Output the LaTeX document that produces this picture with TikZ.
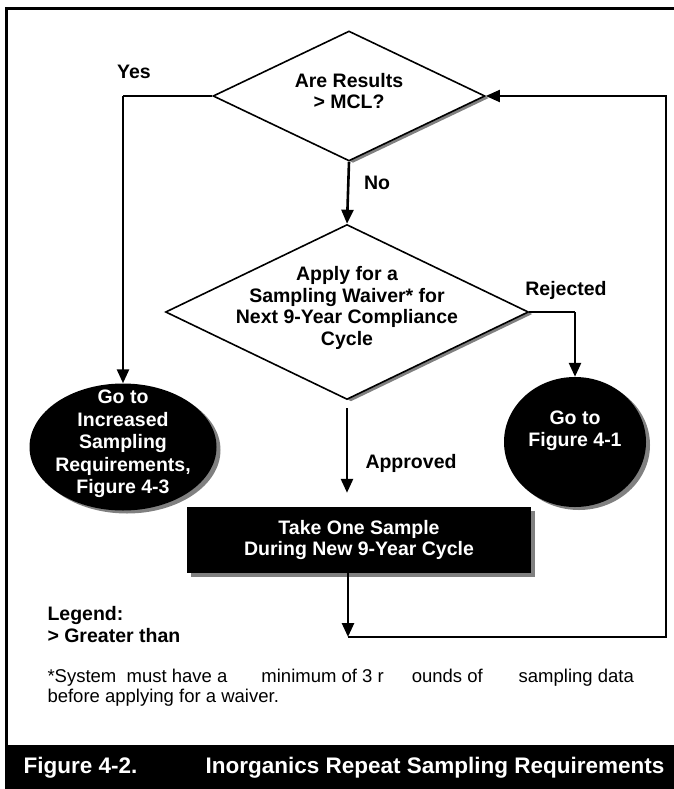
\documentclass[tikz,border=0pt]{standalone}
\usepackage{fontspec}
\setmainfont{Liberation Sans}
\usetikzlibrary{shapes.geometric, arrows.meta, shadows}
\begin{document}
\begin{tikzpicture}[x=1pt, y=-1pt, font=\fontsize{19.5}{21.5}\selectfont\bfseries, line join=miter, >={Triangle[width=12pt,length=14pt]},
	decision/.style={diamond, draw, line width=1.6pt, fill=white, inner sep=0pt, drop shadow={shadow xshift=4pt, shadow yshift=-2pt, fill=gray, opacity=1}},
	terminal/.style={ellipse, fill=black, inner sep=0pt, drop shadow={shadow xshift=4pt, shadow yshift=-3pt, fill=gray, opacity=1}},
	process/.style={rectangle, fill=black, text=white, align=center, inner sep=0pt, drop shadow={shadow xshift=4pt, shadow yshift=-4pt, fill=gray, opacity=1}},
	inside/.style={align=center},
	insidewide/.style={align=center, font=\fontsize{19.5}{22.5}\selectfont\bfseries},
	flow/.style={line width=2.6pt},
	thinflow/.style={line width=1.8pt},
	note/.style={anchor=west, font=\fontsize{18.5}{20.5}\selectfont}]
	\useasboundingbox (0,0) rectangle (673,789);
	% frame and caption bar
	\draw[line width=3pt] (6,800) -- (6,9) -- (690,9);
	\fill (6,745) rectangle (690,800);
	\node[white, font=\fontsize{22.5}{24}\selectfont\bfseries, anchor=west] (capnum) at (20,768) {Figure 4-2.};
	\node[white, font=\fontsize{22.5}{24}\selectfont\bfseries, anchor=east] (captitle) at (668,768) {Inorganics Repeat Sampling Requirements};
	% shapes
	\node[decision, minimum width=272pt, minimum height=130pt] (results) at (349,96) {};
	\node[inside] (resultstext) at ([yshift=5pt]results.center) {Are Results\\> MCL?};
	\node[decision, minimum width=363pt, minimum height=175pt] (waiver) at (347,312) {};
	\node[inside] (waivertext) at ([yshift=4pt]waiver.center) {Apply for a\\Sampling Waiver* for\\Next 9-Year Compliance\\Cycle};
	\node[terminal, minimum width=187pt, minimum height=127pt] (goinc) at (123,447) {};
	\node[insidewide, text=white] (goinctext) at ([yshift=3pt]goinc.center) {Go to\\Increased\\Sampling\\Requirements,\\Figure 4-3};
	\node[terminal, minimum width=142pt, minimum height=130pt] (gofig) at (575,442) {};
	\node[insidewide, text=white] (gofigtext) at ([yshift=11pt]gofig.center) {Go to\\Figure 4-1};
	\node[process, minimum width=344pt, minimum height=66pt] (sample) at (359,540) {Take One Sample\\During New 9-Year Cycle};
	% connectors
	\coordinate (loopend) at (348,637);
	\coordinate (loopright) at (666,637);
	\draw[thinflow] (results.west) -- (goinc.north |- results.west);
	\draw[flow, ->] (goinc.north |- results.west) -- (goinc.north);
	\draw[flow, ->] (results.south) -- (waiver.north);
	\draw[thinflow] (waiver.east) -- (gofig.north |- waiver.east);
	\draw[flow, ->] (gofig.north |- waiver.east) -- (gofig.north);
	\draw[flow, ->, shorten <=8pt, shorten >=14pt] (waiver.south) -- (waiver.south |- sample.north);
	\draw[flow, ->] (loopend |- sample.south) -- (loopend);
	\draw[thinflow, ->] (loopend) -- (loopright) |- (results.east);
	% labels
	\node (yes) at (134,72) {Yes};
	\node (no) at (377,183) {No};
	\node (rejected) at (566,290) {Rejected};
	\node (approved) at (411,463) {Approved};
	\node[anchor=west] (legend) at (44,615) {Legend:};
	\node[anchor=west] (greater) at (44,636) {> Greater than};
	\node[note] (note1) at (44,678) {*System\ \ must have a\hspace{34pt}minimum of 3 r\hspace{28pt}ounds of\hspace{36pt}sampling data};
	\node[note] (note2) at (44,698) {before applying for a waiver.};
\end{tikzpicture}
\end{document}
